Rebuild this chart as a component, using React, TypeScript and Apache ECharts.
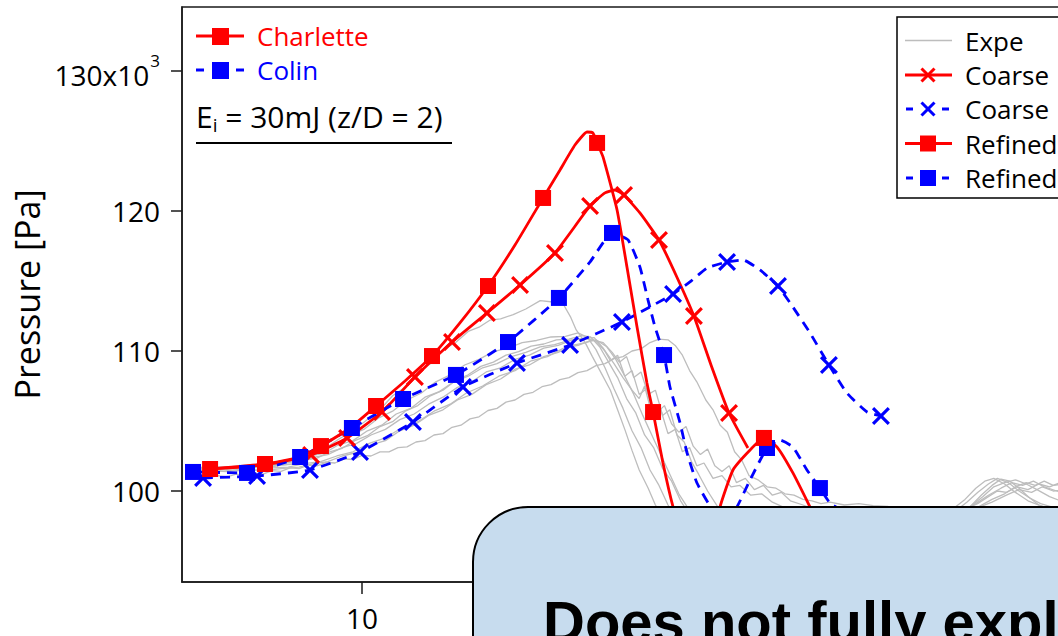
import React, { useEffect, useRef } from "react";
import * as echarts from "echarts";

type Pt = [number, number];

// ---------- axis ticks ----------
const yTickValues = [100, 110, 120, 130];
const xTickValues = [10];
const xMinorTicks = [10, 20, 30, 40];

// ---------- simulations (time, pressure x10^3 Pa) ----------
const charletteRefinedLine: Pt[] = [
  [1.56, 101.57], [4.61, 101.93], [6.56, 102.43], [7.72, 103.21], [9.33, 104.5], [10.78, 106.07],
  [12.39, 107.86], [13.89, 109.64], [15.44, 112.0], [17.0, 114.64], [18.5, 117.57], [20.06, 120.93],
  [21.0, 122.93], [21.83, 124.71], [22.5, 125.64], [22.83, 125.57], [23.06, 124.86], [23.39, 123.86],
  [24.17, 120.07], [24.72, 116.0], [25.28, 111.71], [25.83, 107.71], [26.17, 105.64], [26.72, 102.0],
  [27.28, 98.86], [27.9, 96.3], [28.6, 94.9], [29.2, 95.0], [29.6, 96.6], [29.89, 98.86], [30.61, 101.5],
  [31.56, 102.93], [32.33, 103.79], [33.06, 103.14], [33.94, 101.29], [34.89, 98.86], [35.44, 97.4],
  [36.2, 96.2], [37.5, 95.8],
];
const charletteRefinedMarks: Pt[] = [
  [1.56, 101.57], [4.61, 101.93], [7.72, 103.21], [10.78, 106.07], [13.89, 109.64], [17.0, 114.64],
  [20.06, 120.93], [23.06, 124.86], [26.17, 105.64], [29.2, 95.0], [32.33, 103.79], [35.44, 97.4],
];

const charletteCoarseLine: Pt[] = [
  [1.3, 101.57], [3.22, 101.71], [5.17, 102.0], [7.17, 102.57], [9.17, 103.79], [11.11, 105.64],
  [12.94, 108.14], [15.0, 110.64], [16.94, 112.71], [18.78, 114.71], [20.72, 117.0], [22.67, 120.36],
  [23.5, 121.29], [24.06, 121.5], [24.56, 121.14], [25.44, 119.86], [26.5, 117.93], [27.44, 115.43],
  [28.44, 112.5], [29.39, 109.0], [30.39, 105.57], [31.44, 103.07],
];
const charletteCoarseMarks: Pt[] = [
  [7.17, 102.57], [9.17, 103.79], [11.11, 105.64], [12.94, 108.14], [15.0, 110.64], [16.94, 112.71],
  [18.78, 114.71], [20.72, 117.0], [22.67, 120.36], [24.56, 121.14], [26.5, 117.93], [28.44, 112.5],
  [30.39, 105.57],
];

const colinRefinedLine: Pt[] = [
  [0.61, 101.36], [3.61, 101.29], [6.56, 102.43], [9.44, 104.5], [12.28, 106.57], [15.22, 108.29],
  [18.11, 110.64], [20.94, 113.79], [22.67, 116.36], [23.89, 118.43], [24.78, 117.93], [25.44, 116.0],
  [25.89, 113.64], [26.28, 111.71], [26.78, 109.71], [27.11, 107.43], [27.67, 104.86], [28.06, 102.71],
  [28.61, 100.57], [29.65, 98.3], [30.3, 98.0], [30.83, 98.86], [31.56, 100.79], [32.5, 103.07],
  [33.22, 103.64], [33.94, 103.14], [34.72, 101.5], [35.44, 100.21], [36.0, 99.14], [37.1, 98.3],
  [38.4, 97.9],
];
const colinRefinedMarks: Pt[] = [
  [0.61, 101.36], [3.61, 101.29], [6.56, 102.43], [9.44, 104.5], [12.28, 106.57], [15.22, 108.29],
  [18.11, 110.64], [20.94, 113.79], [23.89, 118.43], [26.78, 109.71], [29.65, 98.3], [32.5, 103.07],
  [35.44, 100.21], [38.4, 97.9],
];

const colinCoarseLine: Pt[] = [
  [1.17, 100.93], [4.17, 101.07], [7.11, 101.5], [9.89, 102.79], [12.83, 104.93], [15.61, 107.43],
  [18.61, 109.14], [21.56, 110.43], [24.44, 112.07], [27.28, 114.07], [28.22, 114.93], [29.17, 115.93],
  [30.28, 116.36], [31.17, 116.5], [32.11, 115.79], [33.11, 114.64], [33.94, 113.14], [34.89, 111.29],
  [35.94, 109.0], [36.94, 107.0], [38.06, 105.64], [38.83, 105.36],
];
const colinCoarseMarks: Pt[] = [
  [1.17, 100.93], [4.17, 101.07], [7.11, 101.5], [9.89, 102.79], [12.83, 104.93], [15.61, 107.43],
  [18.61, 109.14], [21.56, 110.43], [24.44, 112.07], [27.28, 114.07], [30.28, 116.36], [33.11, 114.64],
  [35.94, 109.0], [38.83, 105.36],
];

// ---------- experiments ----------
const expe1: Pt[] = [
  [0.5, 101.45], [1.2, 101.6], [1.9, 101.5], [2.6, 101.62], [3.3, 101.55], [4, 101.7], [4.7, 101.62],
  [5.4, 101.85], [6.1, 101.9], [6.8, 102.2], [7.5, 102.35], [8.2, 102.8], [8.9, 103.05], [9.6, 103.6],
  [10.3, 103.95], [11, 104.6], [11.7, 104.95], [12.4, 105.7], [13.1, 106.1], [13.8, 106.8], [14.5, 107.2],
  [15.2, 107.9], [15.9, 108.3], [16.6, 108.9], [17.3, 109.2], [18, 109.7], [18.7, 109.95], [19.4, 110.35],
  [20.1, 110.5], [20.8, 110.8], [21.5, 110.85], [22.2, 111.1], [22.7, 111.0], [23.2, 110.3], [23.7, 109.2],
  [24.2, 108.1], [24.7, 106.6], [25.2, 105.6], [25.7, 104.0], [26.2, 103.1], [26.7, 101.6], [27.2, 100.7],
  [27.7, 99.3], [28.3, 98.1], [29, 97.0], [30, 96.0], [31, 95.5], [32, 95.4], [33, 95.8], [34, 96.4],
  [35, 97.1], [36, 97.9], [37, 98.2], [38, 98.4], [39, 98.5], [40, 98.5], [41, 98.4], [42, 98.3],
  [43, 98.4], [43.8, 98.9], [44.4, 99.7], [45, 100.4], [45.5, 100.85], [46, 100.7], [46.5, 100.2],
  [47, 99.6], [47.6, 99.0], [48.3, 98.7], [49, 98.6], [50, 98.6],
];
const expe2: Pt[] = [
  [0.5, 101.5], [1.3, 101.65], [2.1, 101.55], [2.9, 101.7], [3.7, 101.62], [4.5, 101.8], [5.3, 101.85],
  [6.1, 102.15], [6.9, 102.4], [7.7, 102.9], [8.5, 103.3], [9.3, 103.95], [10.1, 104.4], [10.9, 105.2],
  [11.7, 105.7], [12.5, 106.5], [13.3, 107.0], [14.1, 107.8], [14.9, 108.3], [15.7, 109.0], [16.5, 109.4],
  [17.3, 109.95], [18.1, 110.2], [18.9, 110.6], [19.7, 110.75], [20.5, 111.0], [21.3, 111.05], [22.0, 111.3],
  [22.5, 111.0], [23.0, 110.1], [23.5, 108.8], [24.0, 107.3], [24.5, 105.9], [25.0, 104.3], [25.5, 103.1],
  [26.0, 101.5], [26.5, 100.4], [27.0, 99.0], [27.6, 97.8], [28.3, 96.8], [29.2, 95.9], [30.2, 95.2],
  [31.2, 94.9], [32.2, 95.1], [33.2, 95.6], [34.2, 96.3], [35.2, 97.0], [36.2, 97.6], [37.2, 98.0],
  [38.2, 98.3], [39.2, 98.4], [40.2, 98.4], [41.2, 98.3], [42.2, 98.3], [43, 98.6], [43.6, 99.2],
  [44.2, 99.9], [44.8, 100.5], [45.3, 100.9], [45.9, 100.6], [46.5, 100.0], [47.1, 99.5], [47.7, 99.1],
  [48.5, 98.8], [50, 98.7],
];
const expe3: Pt[] = [
  [0.5, 101.4], [1.4, 101.5], [2.3, 101.42], [3.2, 101.55], [4.1, 101.5], [5.0, 101.65], [5.9, 101.7],
  [6.8, 101.95], [7.7, 102.1], [8.6, 102.5], [9.5, 102.8], [10.4, 103.4], [11.3, 103.8], [12.2, 104.5],
  [13.1, 104.95], [14.0, 105.7], [14.9, 106.2], [15.8, 107.0], [16.7, 107.5], [17.6, 108.2], [18.5, 108.6],
  [19.4, 109.3], [20.3, 109.6], [21.2, 110.2], [22.0, 110.4], [22.8, 110.8], [23.4, 110.6], [23.9, 109.9],
  [24.3, 109.2], [24.7, 109.6], [25.1, 108.1], [25.5, 108.5], [25.9, 106.9], [26.3, 107.2], [26.7, 105.4],
  [27.1, 105.8], [27.5, 104.0], [27.9, 103.5], [28.3, 102.1], [28.7, 101.2], [29.2, 100.0], [29.8, 98.8],
  [30.6, 97.6], [31.6, 96.7], [32.6, 96.3], [33.6, 96.4], [34.6, 96.9], [35.6, 97.4], [36.6, 97.9],
  [37.6, 98.2], [38.6, 98.4], [39.6, 98.5], [40.6, 98.5], [41.6, 98.4], [42.6, 98.4], [43.4, 98.6],
  [44.1, 99.1], [44.8, 99.7], [45.5, 100.2], [46.1, 100.6], [46.7, 100.4], [47.3, 100.7], [47.9, 100.3],
  [48.6, 100.0], [50, 99.5],
];
const expe4: Pt[] = [
  [0.5, 101.55], [1.5, 101.7], [2.5, 101.6], [3.5, 101.78], [4.5, 101.72], [5.5, 101.95], [6.3, 102.1],
  [7.1, 102.5], [7.9, 102.7], [8.7, 103.3], [9.5, 103.6], [10.3, 104.3], [11.1, 104.7], [11.9, 105.5],
  [12.7, 105.9], [13.5, 106.7], [14.3, 107.1], [15.1, 107.8], [15.9, 108.2], [16.7, 108.8], [17.5, 109.1],
  [18.3, 109.6], [19.1, 109.9], [19.9, 110.3], [20.7, 110.45], [21.5, 110.75], [22.3, 110.9], [22.9, 110.95],
  [23.4, 110.2], [23.8, 109.3], [24.2, 109.7], [24.6, 108.2], [25.0, 108.6], [25.4, 106.9], [25.8, 107.3],
  [26.2, 105.5], [26.6, 105.8], [27.0, 104.1], [27.4, 104.4], [27.8, 102.8], [28.2, 103.1], [28.6, 101.8],
  [29.0, 102.0], [29.5, 100.9], [30.0, 101.1], [30.5, 100.3], [31.0, 100.4], [31.6, 99.7], [32.2, 99.8],
  [32.8, 99.2], [33.5, 98.8], [34.5, 98.2], [35.5, 97.8], [36.5, 97.8], [37.5, 98.0], [38.5, 98.2],
  [39.5, 98.4], [40.5, 98.5], [41.5, 98.5], [42.5, 98.5], [43.5, 98.6], [44.3, 98.9], [45.0, 99.4],
  [45.7, 99.8], [46.3, 100.3], [46.9, 100.6], [47.4, 100.4], [47.9, 100.7], [48.4, 100.4], [49, 100.5],
  [50, 100.2],
];
const expe5: Pt[] = [
  [0.5, 101.35], [1.5, 101.45], [2.5, 101.38], [3.5, 101.5], [4.5, 101.45], [5.5, 101.6], [6.5, 101.7],
  [7.3, 101.95], [8.1, 102.1], [8.9, 102.5], [9.7, 102.75], [10.5, 103.3], [11.3, 103.6], [12.1, 104.3],
  [12.9, 104.7], [13.7, 105.4], [14.5, 105.8], [15.3, 106.5], [16.1, 106.9], [16.9, 107.6], [17.7, 108.0],
  [18.5, 108.7], [19.3, 109.0], [20.1, 109.6], [20.9, 109.9], [21.7, 110.4], [22.4, 110.6], [23.0, 110.8],
  [23.6, 110.3], [24.1, 109.4], [24.6, 108.2], [25.1, 106.9], [25.6, 105.4], [26.1, 104.0], [26.6, 102.6],
  [27.1, 101.2], [27.6, 99.8], [28.2, 98.6], [29, 97.5], [30, 96.6], [31, 96.0], [32, 95.8], [33, 96.0],
  [34, 96.6], [35, 97.2], [36, 97.8], [37, 98.2], [38, 98.4], [39, 98.5], [40, 98.5], [41, 98.4],
  [42, 98.4], [43, 98.5], [43.8, 98.9], [44.5, 99.6], [45.1, 100.3], [45.7, 100.6], [46.3, 100.8],
  [46.9, 100.5], [47.5, 100.1], [48.2, 99.6], [49, 99.2], [50, 99.0],
];
const expe6: Pt[] = [
  [0.5, 101.6], [1.5, 101.75], [2.5, 101.7], [3.5, 101.85], [4.5, 101.85], [5.5, 102.1], [6.3, 102.3],
  [7.1, 102.75], [7.9, 103.0], [8.7, 103.7], [9.5, 104.3], [10.3, 105.1], [11.0, 105.8], [11.7, 106.8],
  [12.4, 107.4], [13.1, 108.5], [13.8, 109.1], [14.5, 110.1], [15.2, 110.6], [15.9, 111.4], [16.5, 111.7],
  [17.1, 112.2], [17.7, 112.3], [18.4, 112.6], [19.1, 113.0], [19.9, 113.6], [20.6, 113.5], [21.2, 113.3],
  [21.6, 112.4], [21.9, 111.5], [22.4, 110.6], [22.8, 109.6], [23.3, 108.4], [23.8, 107.2], [24.2, 105.8],
  [24.6, 104.4], [25.0, 102.9], [25.4, 101.5], [25.9, 100.2], [26.3, 99.0], [27, 97.6], [28, 96.4],
  [29, 95.6], [30, 95.2], [31, 95.3], [32, 95.8], [33, 96.5], [34, 97.2], [35, 97.8], [36, 98.2],
  [37, 98.4], [38, 98.5], [39, 98.6], [40, 98.5], [41, 98.4], [42, 98.4], [42.8, 98.7], [43.5, 99.4],
  [44.1, 100.2], [44.6, 100.7], [45.1, 100.9], [45.7, 100.5], [46.3, 99.9], [47, 99.3], [48, 98.8],
  [50, 98.6],
];
const expe7: Pt[] = [
  [0.5, 100.9], [1.0, 101.05], [1.5, 100.95], [2.0, 101.1], [2.5, 101.0], [3.0, 101.2], [3.5, 101.1],
  [4.0, 101.3], [4.5, 101.2], [5.0, 101.45], [5.5, 101.4], [6.0, 101.65], [6.5, 101.6], [7.0, 101.85],
  [7.5, 101.8], [8.0, 102.05], [8.5, 102.0], [9.0, 102.3], [9.5, 102.25], [10, 102.55], [10.5, 102.5],
  [11, 102.8], [11.5, 102.8], [12, 103.1], [12.5, 103.15], [13, 103.5], [13.5, 103.6], [14, 104.0],
  [14.5, 104.1], [15, 104.55], [15.5, 104.7], [16, 105.15], [16.5, 105.3], [17, 105.75], [17.5, 105.9],
  [18, 106.35], [18.5, 106.5], [19, 106.9], [19.5, 107.05], [20, 107.45], [20.5, 107.6], [21, 107.95],
  [21.5, 108.1], [22, 108.45], [22.5, 108.6], [23, 108.95], [23.5, 109.1], [24, 109.45], [24.5, 109.6],
  [25, 110.0], [25.5, 110.15], [26, 110.6], [26.5, 110.85], [27, 110.8], [27.4, 110.4], [27.8, 109.7],
  [28.2, 108.6], [28.6, 107.8], [29.1, 106.5], [29.5, 105.8], [29.9, 104.7], [30.3, 104.2], [30.7, 102.8],
  [31.1, 102.2], [31.5, 101.1], [32, 100.8], [32.5, 100.3], [33, 100.2], [33.5, 99.8], [34, 99.7],
  [34.5, 99.4], [35, 99.3], [35.5, 99.1], [36, 99.2], [36.8, 99.0], [37.6, 99.1], [38.4, 98.95],
  [39.2, 98.9], [40, 98.6], [41, 98.4], [42, 98.3], [43, 98.4], [44, 98.7], [45, 99.2], [45.8, 99.7],
  [46.5, 100.1], [47.2, 99.9], [47.8, 100.3], [48.4, 100.0], [49.2, 100.1], [50, 99.9],
];
const expe8: Pt[] = [
  [0.5, 101.5], [1.5, 101.6], [2.5, 101.55], [3.5, 101.7], [4.5, 101.65], [5.5, 101.85], [6.5, 102.0],
  [7.3, 102.4], [8.1, 102.6], [8.9, 103.1], [9.7, 103.4], [10.5, 104.0], [11.3, 104.4], [12.1, 105.1],
  [12.9, 105.5], [13.7, 106.2], [14.5, 106.7], [15.3, 107.4], [16.1, 107.8], [16.9, 108.5], [17.7, 108.8],
  [18.5, 109.4], [19.3, 109.7], [20.1, 110.2], [20.9, 110.4], [21.7, 110.8], [22.4, 110.9], [23.0, 110.7],
  [23.5, 110.0], [24.0, 109.1], [24.5, 108.1], [25.0, 107.2], [25.4, 106.6], [25.7, 107.5], [26.0, 106.0],
  [26.4, 105.6], [26.8, 106.1], [27.2, 104.8], [27.6, 104.2], [28.0, 104.6], [28.4, 103.2], [28.8, 102.6],
  [29.2, 103.0], [29.6, 101.8], [30.0, 101.4], [30.4, 101.8], [30.8, 100.6], [31.3, 100.9], [31.8, 100.1],
  [32.3, 100.4], [32.8, 99.7], [33.3, 99.9], [33.8, 99.3], [34.5, 99.0], [35.5, 98.5], [36.5, 98.0],
  [37.5, 97.8], [38.5, 97.9], [39.5, 98.1], [40.5, 98.3], [41.5, 98.4], [42.5, 98.5], [43.5, 98.7],
  [44.2, 99.1], [44.8, 99.6], [45.3, 100.0], [45.8, 99.9], [46.4, 100.3], [47.0, 100.1], [47.6, 100.5],
  [48.2, 100.3], [48.8, 100.6], [49.5, 100.3], [50, 100.2],
];
const expeCurves: Pt[][] = [expe1, expe2, expe3, expe4, expe5, expe6, expe7, expe8];

// ---------- texts ----------
const yAxisTitle = "Pressure [Pa]";
const leftLegend = ["Charlette", "Colin"];
const energyNote = "E|i| = 30mJ (z/D = 2)";
const rightLegend = ["Expe", "Coarse", "Coarse", "Refined", "Refined"];
const calloutText = "Does not fully explain";

const RED = "#ff0000";
const BLUE = "#0000ff";
const GREY = "#bdbdbd";
const FONT = "'Open Sans', 'Noto Sans', sans-serif";
const X_SYMBOL =
  "path://M2.5,0L10,7.5L17.5,0L20,2.5L12.5,10L20,17.5L17.5,20L10,12.5L2.5,20L0,17.5L7.5,10L0,2.5Z";

function buildOption() {
  const series: any[] = [];
  expeCurves.forEach((d) => {
    series.push({
      type: "line",
      data: d,
      symbol: "none",
      showSymbol: false,
      silent: true,
      z: 1,
      lineStyle: { color: GREY, width: 1.3 },
    });
  });
  const simLine = (data: Pt[], color: string, dashed: boolean, z: number) => ({
    type: "line",
    data,
    symbol: "none",
    showSymbol: false,
    silent: true,
    smooth: 0.15,
    z,
    lineStyle: { color, width: 2.8, type: dashed ? [10, 7] : "solid" },
  });
  const marks = (data: Pt[], color: string, symbol: string, size: number, z: number) => ({
    type: "scatter",
    data,
    symbol,
    symbolSize: size,
    silent: true,
    z,
    itemStyle: { color, opacity: 1 },
  });
  series.push(simLine(colinCoarseLine, BLUE, true, 3));
  series.push(marks(colinCoarseMarks, BLUE, X_SYMBOL, 18, 4));
  series.push(simLine(charletteCoarseLine, RED, false, 3));
  series.push(marks(charletteCoarseMarks, RED, X_SYMBOL, 18, 4));
  series.push(simLine(colinRefinedLine, BLUE, true, 5));
  series.push(marks(colinRefinedMarks, BLUE, "rect", 16, 6));
  series.push(simLine(charletteRefinedLine, RED, false, 5));
  series.push(marks(charletteRefinedMarks, RED, "rect", 16, 6));

  const g: any[] = [];
  // left legend
  g.push({ type: "line", shape: { x1: 196, y1: 36, x2: 244, y2: 36 }, style: { stroke: RED, lineWidth: 3 }, z: 50 });
  g.push({ type: "rect", shape: { x: 212, y: 28, width: 17, height: 17 }, style: { fill: RED }, z: 51 });
  g.push({ type: "text", x: 257, y: 36, style: { text: leftLegend[0], fill: RED, fontSize: 26, fontFamily: FONT, verticalAlign: "middle" }, z: 51 });
  g.push({ type: "line", shape: { x1: 196, y1: 70, x2: 204, y2: 70 }, style: { stroke: BLUE, lineWidth: 3 }, z: 50 });
  g.push({ type: "line", shape: { x1: 236, y1: 70, x2: 244, y2: 70 }, style: { stroke: BLUE, lineWidth: 3 }, z: 50 });
  g.push({ type: "rect", shape: { x: 212, y: 62, width: 17, height: 17 }, style: { fill: BLUE }, z: 51 });
  g.push({ type: "text", x: 257, y: 70, style: { text: leftLegend[1], fill: BLUE, fontSize: 26, fontFamily: FONT, verticalAlign: "middle" }, z: 51 });
  const parts = energyNote.split("|");
  g.push({
    type: "text",
    x: 196,
    y: 118,
    z: 51,
    style: {
      text: `{n|${parts[0]}}{s|${parts[1]}}{n|${parts[2]}}`,
      verticalAlign: "middle",
      fill: "#000",
      rich: {
        n: { fontSize: 30, fontFamily: FONT, fill: "#000", verticalAlign: "top" },
        s: { fontSize: 19, fontFamily: FONT, fill: "#000", verticalAlign: "top", padding: [14, 0, 0, 0] },
      },
    },
  });
  g.push({ type: "line", shape: { x1: 196, y1: 143, x2: 452, y2: 143 }, style: { stroke: "#000", lineWidth: 2 }, z: 50 });

  // right legend box
  g.push({ type: "rect", shape: { x: 897, y: 17, width: 200, height: 181 }, style: { fill: "#fff", stroke: "#000", lineWidth: 1.5 }, z: 60 });
  const rows = [40.5, 75, 109, 143.5, 178];
  const drawX = (cx: number, cy: number, color: string) => {
    g.push({ type: "line", shape: { x1: cx - 6.5, y1: cy - 6.5, x2: cx + 6.5, y2: cy + 6.5 }, style: { stroke: color, lineWidth: 3 }, z: 62 });
    g.push({ type: "line", shape: { x1: cx + 6.5, y1: cy - 6.5, x2: cx - 6.5, y2: cy + 6.5 }, style: { stroke: color, lineWidth: 3 }, z: 62 });
  };
  const solid = (cy: number, color: string, w: number) =>
    g.push({ type: "line", shape: { x1: 905, y1: cy, x2: 952, y2: cy }, style: { stroke: color, lineWidth: w }, z: 61 });
  const dashed = (cy: number, color: string) => {
    g.push({ type: "line", shape: { x1: 906, y1: cy, x2: 913, y2: cy }, style: { stroke: color, lineWidth: 3 }, z: 61 });
    g.push({ type: "line", shape: { x1: 942, y1: cy, x2: 949, y2: cy }, style: { stroke: color, lineWidth: 3 }, z: 61 });
  };
  const sq = (cy: number, color: string) =>
    g.push({ type: "rect", shape: { x: 920, y: cy - 8, width: 16, height: 16 }, style: { fill: color }, z: 62 });
  solid(rows[0], GREY, 1.5);
  solid(rows[1], RED, 3);
  drawX(928, rows[1], RED);
  dashed(rows[2], BLUE);
  drawX(928, rows[2], BLUE);
  solid(rows[3], RED, 3);
  sq(rows[3], RED);
  dashed(rows[4], BLUE);
  sq(rows[4], BLUE);
  rightLegend.forEach((t, i) => {
    g.push({ type: "text", x: 965, y: rows[i], style: { text: t, fill: "#000", fontSize: 26, fontFamily: FONT, verticalAlign: "middle" }, z: 62 });
  });

  // callout box
  g.push({
    type: "rect",
    shape: { x: 473, y: 507, width: 700, height: 300, r: 55 },
    style: { fill: "#c7dcee", stroke: "#000", lineWidth: 2 },
    z: 100,
  });
  g.push({
    type: "text",
    x: 543,
    y: 621.5,
    z: 101,
    style: {
      text: calloutText,
      fill: "#000",
      fontSize: 58,
      fontWeight: "bold",
      fontFamily: "'Liberation Sans', Arial, sans-serif",
      verticalAlign: "middle",
    },
  });

  return {
    animation: false,
    backgroundColor: "#fff",
    grid: {
      left: 182,
      top: 7,
      width: 900,
      height: 575,
      show: true,
      borderColor: "#1a1a1a",
      borderWidth: 1.5,
      containLabel: false,
      outerBoundsMode: "none",
    },
    xAxis: {
      type: "value",
      min: 0,
      max: 50,
      splitLine: { show: false },
      axisLine: { show: true, onZero: false, lineStyle: { color: "#1a1a1a", width: 1.5 } },
      axisTick: { show: true, length: 12, lineStyle: { color: "#1a1a1a", width: 1.5 }, customValues: xMinorTicks },
      axisLabel: { show: true, customValues: xTickValues, margin: 22, fontSize: 28, fontFamily: FONT, color: "#000" },
    },
    yAxis: {
      type: "value",
      min: 93.5,
      max: 134.57,
      splitLine: { show: false },
      name: yAxisTitle,
      nameLocation: "middle",
      nameGap: 133,
      nameTextStyle: { fontSize: 34, fontFamily: FONT, color: "#000" },
      axisLine: { show: true, onZero: false, lineStyle: { color: "#1a1a1a", width: 1.5 } },
      axisTick: { show: true, length: 11, lineStyle: { color: "#1a1a1a", width: 1.5 }, customValues: yTickValues },
      axisLabel: {
        show: true,
        customValues: yTickValues,
        margin: 22,
        fontSize: 28,
        fontFamily: FONT,
        color: "#000",
        formatter: (v: number) => (v === 130 ? "{a|130x10}{s|3}" : String(v)),
        rich: {
          a: { fontSize: 28, fontFamily: FONT, color: "#000", verticalAlign: "bottom" },
          s: { fontSize: 17, fontFamily: FONT, color: "#000", verticalAlign: "bottom", padding: [0, 0, 20, 1] },
        },
      },
    },
    series,
    graphic: g,
  };
}

export default function App() {
  const ref = useRef<HTMLDivElement>(null);
  useEffect(() => {
    if (!ref.current) return;
    const chart = echarts.init(ref.current, null, { renderer: "svg" });
    chart.setOption(buildOption() as any);
    return () => chart.dispose();
  }, []);
  return (
    <div style={{ position: "fixed", left: 0, top: 0, width: 1058, height: 636, overflow: "hidden", background: "#fff" }}>
      <div ref={ref} style={{ width: 1100, height: 636 }} />
    </div>
  );
}
